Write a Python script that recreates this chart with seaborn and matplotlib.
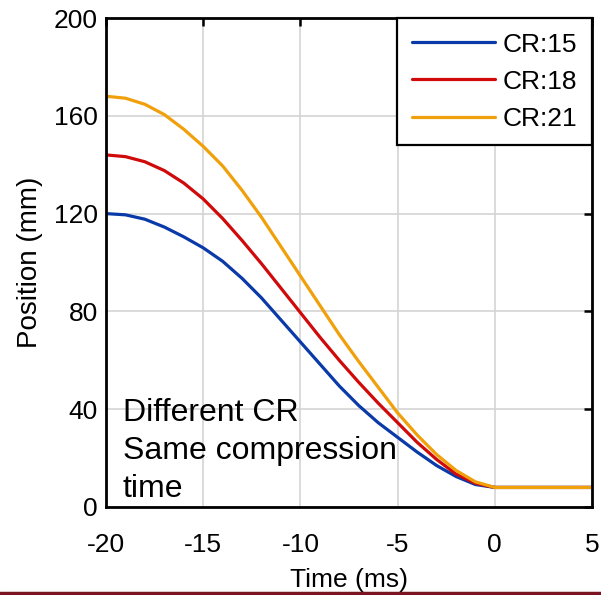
import matplotlib
matplotlib.use('Agg')
import matplotlib.pyplot as plt
from matplotlib.lines import Line2D
import numpy as np
import pandas as pd
import seaborn as sns

# values (ms, mm)
time = list(range(-20, 6))
cr15 = [120, 119.5, 117.7, 114.5, 110.5, 106, 100.5, 93.5, 85.5, 76.5, 67.5,
        58.5, 49.5, 41.5, 34.5, 28.5, 22.5, 17, 12.5, 9.2, 8, 8, 8, 8, 8, 8]
cr18 = [144, 143.3, 141.2, 137.6, 132.5, 126, 118, 109, 99.5, 89.5, 79.5,
        69.5, 60, 51, 42.5, 34.5, 26.5, 19.5, 13.5, 9.7, 8, 8, 8, 8, 8, 8]
cr21 = [168, 167.2, 164.7, 160.5, 154.5, 147.5, 139.5, 129.5, 118.5, 106.5,
        94.5, 82.5, 70.5, 59.5, 49, 38.5, 29.5, 21.5, 15, 10.3, 8, 8, 8, 8, 8, 8]
labels = ['CR:15', 'CR:18', 'CR:21']
colors = ['#0a3aa8', '#d00a0a', '#f0a00a']

df = pd.DataFrame({
    'Time': time * 3,
    'Position': cr15 + cr18 + cr21,
    'CR': np.repeat(labels, len(time))})

sns.set_style('white')
plt.rcParams['font.family'] = ['Liberation Sans', 'DejaVu Sans']
plt.rcParams['axes.unicode_minus'] = False
plt.rcParams['text.color'] = 'black'
plt.rcParams['axes.labelcolor'] = 'black'

fig = plt.figure(figsize=(6.01, 5.95), dpi=100)
ax = fig.add_axes([106/601, 1 - 507/595, (592 - 106)/601, (507 - 18)/595])

sns.lineplot(data=df, x='Time', y='Position', hue='CR', palette=colors,
             linewidth=2.3, ax=ax)

ax.set_xlim(-20, 5)
ax.set_ylim(0, 200)
ax.set_xticks([-20, -15, -10, -5, 0, 5])
ax.set_yticks([0, 40, 80, 120, 160, 200])
ax.grid(True, color='#d4d4d4', linewidth=1.2)
ax.tick_params(direction='in', length=6, width=1.8, labelsize=19,
               top=True, right=True, colors='black')
ax.tick_params(axis='x', pad=19)
ax.tick_params(axis='y', pad=6)
for s in ax.spines.values():
    s.set_visible(True)
    s.set_color('black')
    s.set_linewidth(2)

ax.set_xlabel('Time (ms)', fontsize=19, labelpad=8)
ax.set_ylabel('Position (mm)', fontsize=20, labelpad=8)

ax.text(-19.15, 44.5, 'Different CR\nSame compression\ntime', fontsize=23,
        linespacing=1.35, va='top', ha='left', color='black')

leg = ax.legend(loc='upper right', borderaxespad=0, fontsize=19,
                handlelength=3.15, handletextpad=0.3, labelspacing=0.5,
                borderpad=0.55, fancybox=False, framealpha=1,
                edgecolor='black')
leg.get_frame().set_linewidth(1.6)
leg.set_title(None)
for h in leg.get_lines():
    h.set_linewidth(2.3)

fig.add_artist(Line2D([0, 1], [1 - 593/595, 1 - 593/595], color='#7a1420',
                      linewidth=2.5, transform=fig.transFigure))

fig.savefig('out.png', dpi=100)
